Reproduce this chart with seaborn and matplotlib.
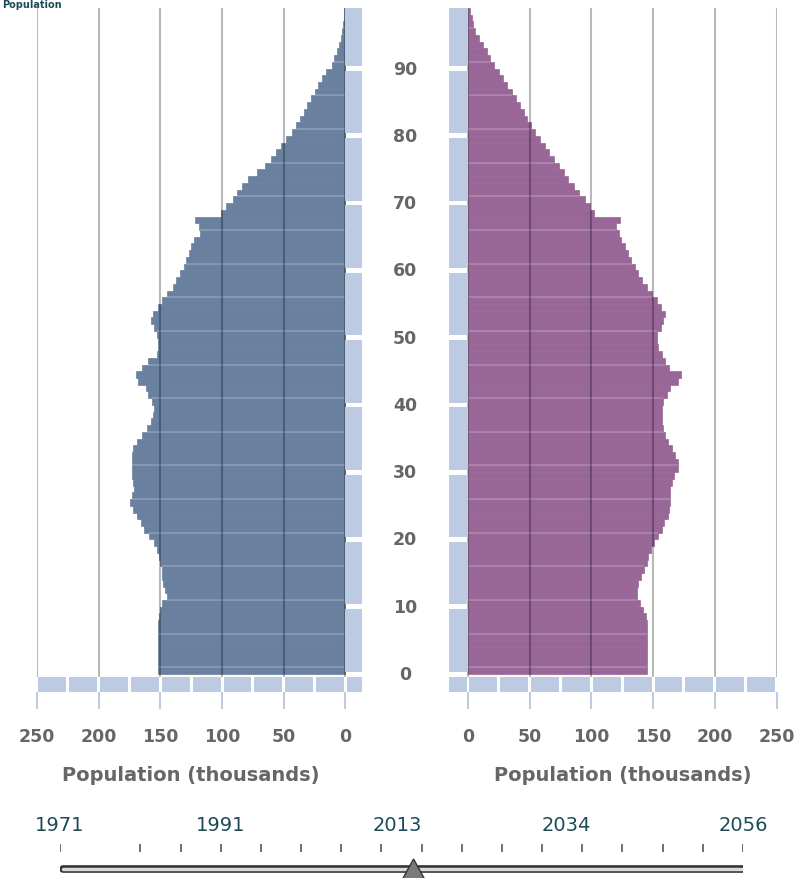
import numpy as np
import pandas as pd
import matplotlib
matplotlib.use("Agg")
import matplotlib.pyplot as plt
import matplotlib.transforms as mtransforms
from matplotlib.patches import Rectangle, Polygon
import seaborn as sns

# single year of age, 0..98
ages = np.arange(0, 99)

# population (thousands)
male = [152, 152, 152, 152, 152, 152, 152, 152, 151, 150,
        149, 145, 146, 148, 149, 149, 150, 151, 153, 155,
        159, 163, 166, 169, 172, 175, 173, 171, 172, 173,
        173, 173, 173, 172, 169, 165, 161, 158, 156, 155,
        157, 160, 162, 168, 170, 165, 160, 153, 152, 152,
        153, 155, 158, 156, 152, 149, 145, 140, 137, 134,
        131, 129, 127, 125, 123, 118, 119, 122, 101, 97,
        91, 88, 84, 79, 72, 65, 60, 56, 52, 48,
        43, 40, 37, 34, 31, 28, 25, 22, 19, 16,
        11, 9, 7, 5.5, 4, 3, 2, 1.5, 1]
female = [145, 145, 145, 145, 145, 145, 145, 145, 144, 142,
          139, 137, 137, 138, 140, 143, 145, 146, 148, 151,
          154, 157, 159, 162, 163, 164, 164, 164, 165, 167,
          170, 170, 168, 165, 162, 160, 158, 157, 157, 157,
          158, 161, 164, 170, 173, 163, 160, 157, 154, 153,
          153, 156, 158, 160, 156, 153, 149, 145, 141, 138,
          135, 132, 130, 127, 124, 122, 120, 123, 102, 99,
          95, 90, 86, 81, 78, 74, 70, 66, 62, 58,
          54, 51, 48, 45, 42, 39, 36, 32, 28, 25,
          21, 18, 15, 12, 9, 6, 4, 3, 1.5]

age_ticks = list(range(0, 100, 10))
pop_ticks = [0, 50, 100, 150, 200, 250]
slider_labels = [1971, 1991, 2013, 2034, 2056]
slider_ticks = [1971] + list(range(1981, 2057, 5))
current_year = 2015

MALE = '#6a809f'
FEMALE = '#986797'
STRIP = '#bccbe2'
GREY = '#666666'
TEAL = '#1c4b57'

W, H = 797, 879

sns.set_theme(style="white")
plt.rcParams['font.family'] = ['DejaVu Sans']

df = pd.DataFrame({'age': ages, 'male': male, 'female': female})


def px(x0, y_top, w, h):
    # figure rectangle from pixel box (top-left origin)
    return [x0 / W, 1 - (y_top + h) / H, w / W, h / H]


fig = plt.figure(figsize=(W / 100, H / 100), dpi=100)
axL = fig.add_axes(px(37, 9, 325.5, 684))
axR = fig.add_axes(px(449, 9, 327.5, 684))

# axes, column, colour, x limits, width of the light strip next to the labels
sides = [(axL, 'male', MALE, (250, -13.8), 13.8),
         (axR, 'female', FEMALE, (-15.4, 250), 15.4)]

for ax, col, colour, xlim, strip_w in sides:
    sns.barplot(data=df, x=col, y='age', orient='y', native_scale=True,
                width=1, color=colour, saturation=1, errorbar=None,
                edgecolor=colour, linewidth=0.5, ax=ax)
    vals = df[col].to_numpy()
    # faint band lines every five years
    sel = np.where(ages[:-1] % 5 == 0)[0]
    ax.hlines(ages[sel] + 0.5, 0, np.minimum(vals[sel], vals[sel + 1]),
              color='white', alpha=0.18, lw=1.5, zorder=2)

    ax.set_xlim(*xlim)
    ax.set_ylim(-3.17, 98.5)
    ax.set_yticks([])
    ax.set_ylabel('')
    ax.set_xticks(pop_ticks, labels=[str(v) for v in pop_ticks], fontweight='bold')
    ax.tick_params(axis='x', length=12, width=1.5, color=STRIP, labelsize=12.5,
                   labelcolor=GREY, pad=13, bottom=True)
    for s in ax.spines.values():
        s.set_visible(False)
    ax.grid(False)
    # vertical guide lines, stopping at the strip under the bars
    ax.vlines(pop_ticks, -0.95, 98.5, color='black', alpha=0.28, lw=1.5, zorder=3)

    # vertical strip beside the centre labels, broken at every ten years
    for k, lo in enumerate(age_ticks):
        hi = age_ticks[k + 1] - 0.5 - 0.35 if k + 1 < len(age_ticks) else 98.5
        y0 = lo - 0.5 + (0.3 if k == 0 else 0.35)
        ax.add_patch(Rectangle((-strip_w, y0), strip_w, hi - y0,
                               color=STRIP, zorder=4, lw=0))
    # horizontal strip under the bars, broken every 25
    for j in range(10):
        ax.add_patch(Rectangle((25 * j + 1.2, -3.17), 25 - 2.4, 2.22,
                               color=STRIP, zorder=4, lw=0))
    ax.add_patch(Rectangle((-strip_w, -3.17), strip_w - 1.2, 2.22,
                           color=STRIP, zorder=4, lw=0))

    ax.set_xlabel('Population (thousands)', fontsize=14, fontweight='bold', color=GREY)
    xc = (xlim[0] - 125) / (xlim[0] - xlim[1])
    ax.xaxis.set_label_coords(xc, -(776 - 693) / 684)
    ax.xaxis.label.set_va('center')

# age labels between the two halves
trans = mtransforms.blended_transform_factory(fig.transFigure, axL.transData)
for a in age_ticks:
    fig.text(405 / W, a - 0.5, str(a), transform=trans, ha='center', va='center',
             fontsize=12.5, fontweight='bold', color=GREY)

# heading squeezed into the top-left corner
fig.text(2 / W, 1 - 0.5 / H, 'Population', fontsize=7, fontweight='bold',
         color=TEAL, va='top', ha='left')

# year slider
axS = fig.add_axes(px(60, 799, 683, 80))
axS.set_xlim(1971, 2056)
axS.set_ylim(0, 80)
axS.axis('off')
for yr in slider_labels:
    axS.text(yr, 53, str(yr), ha='center', va='center', fontsize=14, color=TEAL)
axS.vlines(slider_ticks, 26, 34, color='#555555', lw=1.2)
axS.plot([1971.4, 2056.5], [9, 9], color='#333333', lw=5.5, solid_capstyle='round')
axS.plot([1971.4, 2056.5], [9, 9], color='#d9d9d9', lw=2.5, solid_capstyle='round')
axS.add_patch(Polygon([(current_year - 1.5, -3), (current_year, 19), (current_year + 1.5, -3)],
                      closed=True, facecolor='#7a7a7a', edgecolor='#333333', lw=1,
                      clip_on=False, zorder=5))

fig.savefig('out.png', dpi=100)
